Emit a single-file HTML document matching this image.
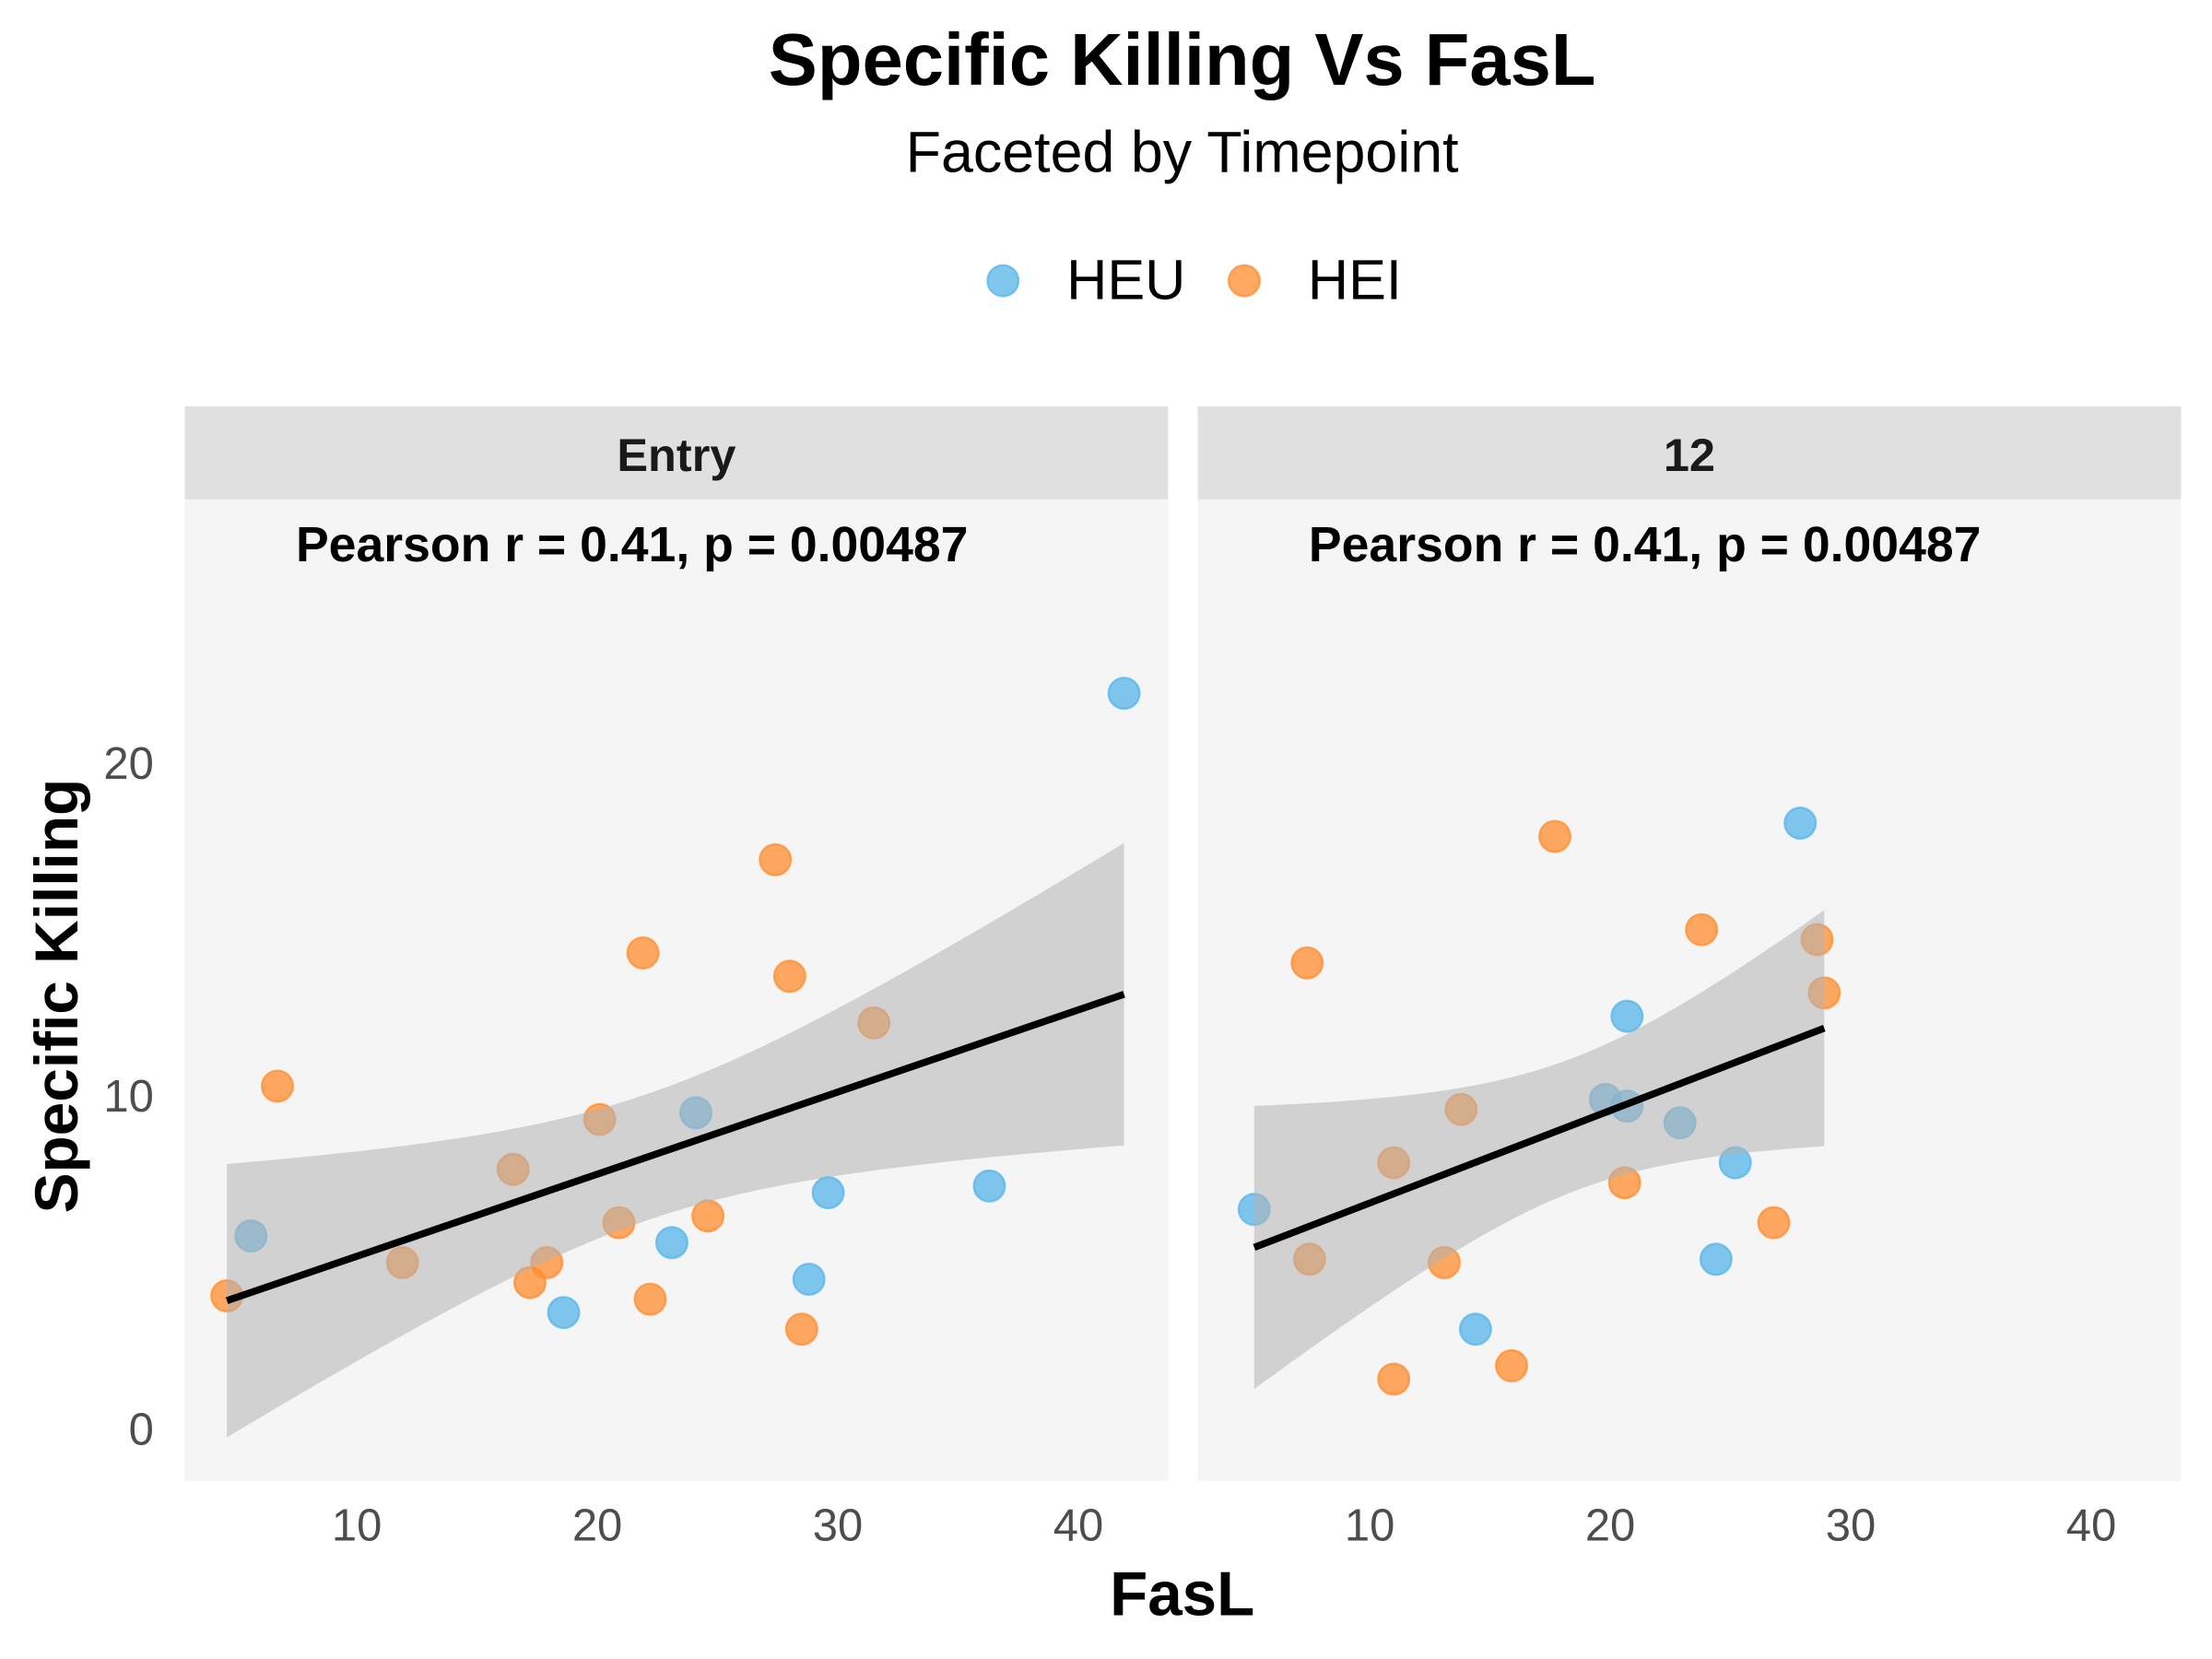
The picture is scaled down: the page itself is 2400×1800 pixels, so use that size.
<!DOCTYPE html>
<html><head><meta charset="utf-8"><style>html,body{margin:0;padding:0;background:#fff}svg{display:block}text{font-family:"Liberation Sans",Arial,sans-serif}</style></head>
<body>
<svg id="chart" width="2400" height="1800" viewBox="0 0 1568 1176" xmlns="http://www.w3.org/2000/svg">
<rect width="1568" height="1176" fill="#fff"/>
<text x="838" y="60" text-anchor="middle" font-size="52" font-weight="bold" fill="#000">Specific Killing Vs FasL</text>
<text x="838" y="122" text-anchor="middle" font-size="41" fill="#000">Faceted by Timepoint</text>
<g>
<circle cx="711" cy="199" r="11" fill="#56B4E9" fill-opacity="0.75" stroke="#56B4E9" stroke-opacity="0.75" stroke-width="1.5"/>
<text x="756" y="212" font-size="40" fill="#000">HEU</text>
<circle cx="882" cy="199" r="11" fill="#FF8C2E" fill-opacity="0.75" stroke="#FF8C2E" stroke-opacity="0.75" stroke-width="1.5"/>
<text x="927" y="212" font-size="40" fill="#000">HEI</text>
</g>
<g id="panels"></g>
<text x="838" y="1145" text-anchor="middle" font-size="44" font-weight="bold" fill="#000">FasL</text>
<text transform="translate(55,706) rotate(-90)" text-anchor="middle" font-size="43" font-weight="bold" fill="#000">Specific Killing</text>
</svg>
<script>
// ---- data ----
const facetLabels = ["Entry", "12"];
const annotationText = "Pearson r = 0.41, p = 0.00487";
const xTicks = [10, 20, 30, 40];
const yTicks = [0, 10, 20];
const entryHeuX = [5.6, 18.6, 23.1, 24.1, 28.8, 29.6, 36.3, 41.9];
const entryHeuY = [5.8, 3.5, 5.6, 9.5, 4.5, 7.1, 7.3, 22.1];
const entryHeiX = [4.6, 6.7, 11.9, 16.5, 17.2, 17.9, 20.1, 20.9, 21.9, 22.2, 24.6, 27.4, 28.0, 28.5, 31.5];
const entryHeiY = [4.0, 10.3, 5.0, 7.8, 4.4, 5.0, 9.3, 6.2, 14.3, 3.9, 6.4, 17.1, 13.6, 3.0, 12.2];
const m12HeuX = [5.2, 14.4, 19.8, 20.7, 20.7, 22.9, 24.4, 25.2, 27.9];
const m12HeuY = [6.6, 3.0, 9.9, 9.7, 12.4, 9.2, 5.1, 8.0, 18.2];
const m12HeiX = [7.5, 7.4, 11.0, 11.0, 13.1, 13.8, 15.9, 17.7, 20.6, 23.8, 26.8, 28.6, 28.9];
const m12HeiY = [5.1, 14.0, 8.0, 1.5, 5.0, 9.6, 1.9, 17.8, 7.4, 15.0, 6.2, 14.7, 13.1];

const NS = "http://www.w3.org/2000/svg";
const root = document.getElementById("panels");
function mk(tag, attrs, parent) {
  const e = document.createElementNS(NS, tag);
  for (const k in attrs) e.setAttribute(k, attrs[k]);
  parent.appendChild(e);
  return e;
}
const panelTop = 354, panelBottom = 1050, stripTop = 288;
const panelLefts = [131, 849], panelW = 697;
function xScale(p, v) { return panelLefts[p] + (v - 2.85) * 17.05; }
function yScale(v) { return 1013 - v * 23.6; }

const facetData = [
  {hx: entryHeuX, hy: entryHeuY, ix: entryHeiX, iy: entryHeiY},
  {hx: m12HeuX, hy: m12HeuY, ix: m12HeiX, iy: m12HeiY}
];
function tq(df) { return df >= 30 ? 2.04 : [12.7,4.30,3.18,2.78,2.57,2.45,2.36,2.31,2.26,2.23,2.20,2.18,2.16,2.14,2.13,2.12,2.11,2.10,2.09,2.09,2.08,2.07,2.07,2.06,2.06,2.06,2.05,2.05,2.05][df-1]; }

facetData.forEach((d, p) => {
  const L = panelLefts[p];
  const g = mk("g", {}, root);
  
  
  const bg = mk("rect", {x: L, y: panelTop, width: panelW, height: panelBottom - panelTop, fill: "#f5f5f5"}, g);
  
  
  const st = mk("rect", {x: L, y: stripTop, width: panelW, height: panelTop - stripTop, fill: "#e0e0e0"}, g);
  
  
  const stt = mk("text", {x: L + panelW / 2, y: 334, "text-anchor": "middle", "font-size": "33", "font-weight": "bold", fill: "#1a1a1a"}, g);
  stt.textContent = facetLabels[p];
  
  
  const an = mk("text", {x: L + 317, y: 398, "text-anchor": "middle", "font-size": "35", "font-weight": "bold", fill: "#000"}, g);
  an.textContent = annotationText;
  
  
  xTicks.forEach(t => {
    const tx = mk("text", {x: xScale(p, t), y: 1092, "text-anchor": "middle", "font-size": "32", fill: "#4d4d4d"}, g);
    tx.textContent = t;
    
    
  });
  if (p === 0) {
    yTicks.forEach(t => {
      const ty = mk("text", {x: 109, y: yScale(t) + 11, "text-anchor": "end", "font-size": "32", fill: "#4d4d4d"}, g);
      ty.textContent = t;
      
      
    });
  }
  const series = [[d.hx, d.hy, "#56B4E9", "heu"], [d.ix, d.iy, "#FF8C2E", "hei"]];
  series.forEach(s => {
    s[0].forEach((xv, i) => {
      const c = mk("circle", {cx: xScale(p, xv), cy: yScale(s[1][i]), r: 11, fill: s[2], "fill-opacity": 0.75, stroke: s[2], "stroke-opacity": 0.75, "stroke-width": 1.5}, g);
      
      
    });
  });
  const X = d.hx.concat(d.ix), Y = d.hy.concat(d.iy);
  const n = X.length;
  const mx = X.reduce((a, b) => a + b, 0) / n, my = Y.reduce((a, b) => a + b, 0) / n;
  let sxx = 0, sxy = 0;
  for (let i = 0; i < n; i++) { sxx += (X[i] - mx) ** 2; sxy += (X[i] - mx) * (Y[i] - my); }
  const b = sxy / sxx, a = my - b * mx;
  let sse = 0;
  for (let i = 0; i < n; i++) sse += (Y[i] - a - b * X[i]) ** 2;
  const s = Math.sqrt(sse / (n - 2)), t = tq(n - 2);
  const xmin = Math.min(...X), xmax = Math.max(...X);
  const up = [], lo = [];
  for (let k = 0; k <= 80; k++) {
    const xv = xmin + (xmax - xmin) * k / 80;
    const fit = a + b * xv;
    const se = s * Math.sqrt(1 / n + (xv - mx) ** 2 / sxx);
    up.push(xScale(p, xv).toFixed(2) + "," + yScale(fit + t * se).toFixed(2));
    lo.unshift(xScale(p, xv).toFixed(2) + "," + yScale(fit - t * se).toFixed(2));
  }
  const rib = mk("polygon", {points: up.concat(lo).join(" "), fill: "#b3b3b3", "fill-opacity": 0.55}, g);
  
  
  const ln = mk("line", {x1: xScale(p, xmin), y1: yScale(a + b * xmin), x2: xScale(p, xmax), y2: yScale(a + b * xmax), stroke: "#000", "stroke-width": 5}, g);
  
  
});
</script>
</body></html>
